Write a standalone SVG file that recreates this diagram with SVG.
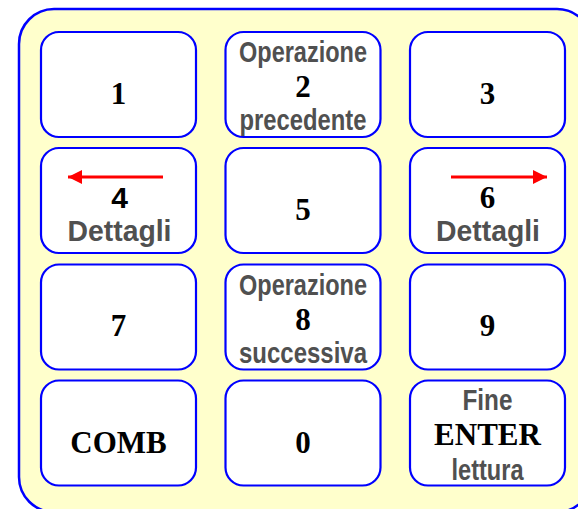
<svg xmlns="http://www.w3.org/2000/svg" width="578" height="509" viewBox="0 0 578 509">
  <defs>
    <style>
      .panel { fill: #FFFFCC; stroke: #0000FF; stroke-width: 2.5; }
      .key { fill: #FFFFFF; stroke: #0000FF; stroke-width: 2.2; }
      .num { font-family: "Liberation Serif", "Times New Roman", serif; font-weight: bold; font-size: 31px; fill: #000; text-anchor: middle; }
      .numsans { font-family: "Liberation Sans", Arial, sans-serif; font-weight: bold; font-size: 30px; fill: #000; text-anchor: middle; }
      .lbl { font-family: "Liberation Sans", Arial, sans-serif; font-weight: bold; font-size: 30px; fill: #505050; text-anchor: middle; }
      .arrow { stroke: #FF0000; stroke-width: 3; fill: none; }
    </style>
    <marker id="head" viewBox="0 0 10 10" refX="10" refY="5" markerUnits="userSpaceOnUse" markerWidth="17" markerHeight="14" orient="auto">
      <path d="M0,0 L10,5 L0,10 Z" fill="#FF0000"/>
    </marker>
  </defs>

  <!-- keypad background -->
  <rect class="panel" x="19" y="9" width="573" height="503" rx="35" ry="35"/>

  <!-- row 1 -->
  <g id="key-1">
    <rect class="key" x="41" y="32" width="155" height="105" rx="18"/>
    <text class="num" x="118.5" y="103.5">1</text>
  </g>
  <g id="key-2">
    <rect class="key" x="225.5" y="32" width="155" height="105" rx="18"/>
    <text class="lbl" x="303" y="62" textLength="128" lengthAdjust="spacingAndGlyphs">Operazione</text>
    <text class="num" x="303" y="97">2</text>
    <text class="lbl" x="303" y="130" textLength="127" lengthAdjust="spacingAndGlyphs">precedente</text>
  </g>
  <g id="key-3">
    <rect class="key" x="410" y="32" width="155" height="105" rx="18"/>
    <text class="num" x="487.5" y="103.5">3</text>
  </g>

  <!-- row 2 -->
  <g id="key-4">
    <rect class="key" x="41" y="148" width="155" height="105" rx="18"/>
    <text class="numsans" x="119.5" y="208">4</text>
    <text class="lbl" x="119.5" y="241" textLength="104" lengthAdjust="spacingAndGlyphs">Dettagli</text>
  </g>
  <g id="key-5">
    <rect class="key" x="225.5" y="148" width="155" height="105" rx="18"/>
    <text class="num" x="303" y="219.5">5</text>
  </g>
  <g id="key-6">
    <rect class="key" x="410" y="148" width="155" height="105" rx="18"/>
    <text class="num" x="487.5" y="208">6</text>
    <text class="lbl" x="488" y="241" textLength="104" lengthAdjust="spacingAndGlyphs">Dettagli</text>
  </g>

  <!-- row 3 -->
  <g id="key-7">
    <rect class="key" x="41" y="264.5" width="155" height="105" rx="18"/>
    <text class="num" x="118.5" y="336">7</text>
  </g>
  <g id="key-8">
    <rect class="key" x="225.5" y="264.5" width="155" height="105" rx="18"/>
    <text class="lbl" x="303" y="295" textLength="128" lengthAdjust="spacingAndGlyphs">Operazione</text>
    <text class="num" x="303" y="330">8</text>
    <text class="lbl" x="303" y="363" textLength="128" lengthAdjust="spacingAndGlyphs">successiva</text>
  </g>
  <g id="key-9">
    <rect class="key" x="410" y="264.5" width="155" height="105" rx="18"/>
    <text class="num" x="487.5" y="336">9</text>
  </g>

  <!-- row 4 -->
  <g id="key-comb">
    <rect class="key" x="41" y="380.5" width="155" height="105" rx="18"/>
    <text class="num" x="118.5" y="453">COMB</text>
  </g>
  <g id="key-0">
    <rect class="key" x="225.5" y="380.5" width="155" height="105" rx="18"/>
    <text class="num" x="303" y="453">0</text>
  </g>
  <g id="key-enter">
    <rect class="key" x="410" y="380.5" width="155" height="105" rx="18"/>
    <text class="lbl" x="487.5" y="410" textLength="50" lengthAdjust="spacingAndGlyphs">Fine</text>
    <text class="num" x="487.5" y="445">ENTER</text>
    <text class="lbl" x="487.5" y="480" textLength="72" lengthAdjust="spacingAndGlyphs">lettura</text>
  </g>

  <!-- navigation arrows -->
  <g id="connectors">
    <line class="arrow" x1="163" y1="177" x2="68" y2="177" marker-end="url(#head)"/>
    <line class="arrow" x1="451" y1="177" x2="547" y2="177" marker-end="url(#head)"/>
  </g>
</svg>
